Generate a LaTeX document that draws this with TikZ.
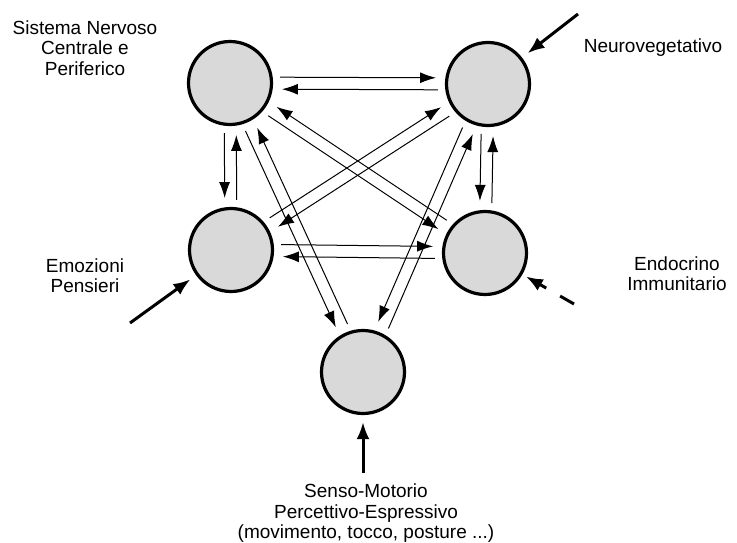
\documentclass[tikz,border=0pt]{standalone}
\usepackage{fontspec}
\setmainfont{Liberation Sans}
\usetikzlibrary{arrows.meta,calc}

\begin{document}
\begin{tikzpicture}[
  x=1pt, y=-1pt,
  sys/.style={circle,draw,line width=3.2pt,fill=black!15,minimum size=83pt,inner sep=0pt},
  lbl/.style={align=center,inner sep=0pt,font=\fontsize{19}{20.5}\selectfont},
  arr/.style={-{Latex[length=16pt,width=11pt]},line width=1pt,shorten <=50pt,shorten >=52pt},
  inarr/.style={-{Latex[length=17pt,width=13pt]},line width=3pt,shorten >=7pt}
]
  \useasboundingbox (0,0) rectangle (737,543);

  % the five systems
  \node[sys] (snc) at (230,83) {};
  \node[sys] (nv) at (488,84) {};
  \node[sys] (em) at (231,250) {};
  \node[sys] (ei) at (485,253) {};
  \node[sys] (sm) at (363,372) {};

  \node[lbl] (snclbl) at (85,48) {Sistema Nervoso\\Centrale e\\Periferico};
  \node[lbl] (nvlbl) at (653,48) {Neurovegetativo};
  \node[lbl] (emlbl) at (85,275.5) {Emozioni\\Pensieri};
  \node[lbl] (eilbl) at (677,273.5) {Endocrino\\Immunitario};
  \node[lbl] (smlbl) at (366,513.5) {Senso-Motorio\\Percettivo-Espressivo\\(movimento, tocco, posture ...)};

  % two-way links
  \draw[arr] ($(snc)!6pt!90:(nv)$) -- ($(nv)!6pt!-90:(snc)$);
  \draw[arr] ($(nv)!6pt!90:(snc)$) -- ($(snc)!6pt!-90:(nv)$);
  \draw[arr] ($(em)!6pt!90:(ei)$) -- ($(ei)!6pt!-90:(em)$);
  \draw[arr] ($(ei)!6pt!90:(em)$) -- ($(em)!6pt!-90:(ei)$);
  \draw[arr] ($(nv)!6pt!90:(em)$) -- ($(em)!6pt!-90:(nv)$);
  \draw[arr] ($(em)!6pt!90:(nv)$) -- ($(nv)!6pt!-90:(em)$);

  \draw[arr] ($(snc)!6pt!-90:(em)$) -- ($(em)!6pt!90:(snc)$);
  \draw[arr] ($(em)!6pt!-90:(snc)$) -- ($(snc)!6pt!90:(em)$);
  \draw[arr] ($(nv)!6pt!-90:(ei)$) -- ($(ei)!6pt!90:(nv)$);
  \draw[arr] ($(ei)!6pt!-90:(nv)$) -- ($(nv)!6pt!90:(ei)$);
  \draw[arr] ($(snc)!6pt!-90:(ei)$) -- ($(ei)!6pt!90:(snc)$);
  \draw[arr] ($(ei)!6pt!-90:(snc)$) -- ($(snc)!6pt!90:(ei)$);
  \draw[arr] ($(snc)!6pt!-90:(sm)$) -- ($(sm)!6pt!90:(snc)$);
  \draw[arr] ($(sm)!6pt!-90:(snc)$) -- ($(snc)!6pt!90:(sm)$);
  \draw[arr] ($(nv)!6pt!-90:(sm)$) -- ($(sm)!6pt!90:(nv)$);
  \draw[arr] ($(sm)!6pt!-90:(nv)$) -- ($(nv)!6pt!90:(sm)$);

  % inputs from outside
  \coordinate (nvin) at (578,14);
  \coordinate (emin) at (130,323);
  \coordinate (eiin) at (574,304);
  \coordinate (smin) at (363,473);
  \draw[inarr] (nvin) -- (nv);
  \draw[inarr] (emin) -- (em);
  \draw[inarr,dash pattern=on 16pt off 16pt,shorten >=4pt] (eiin) -- (ei);
  \draw[inarr] (smin) -- (sm);
\end{tikzpicture}
\end{document}
